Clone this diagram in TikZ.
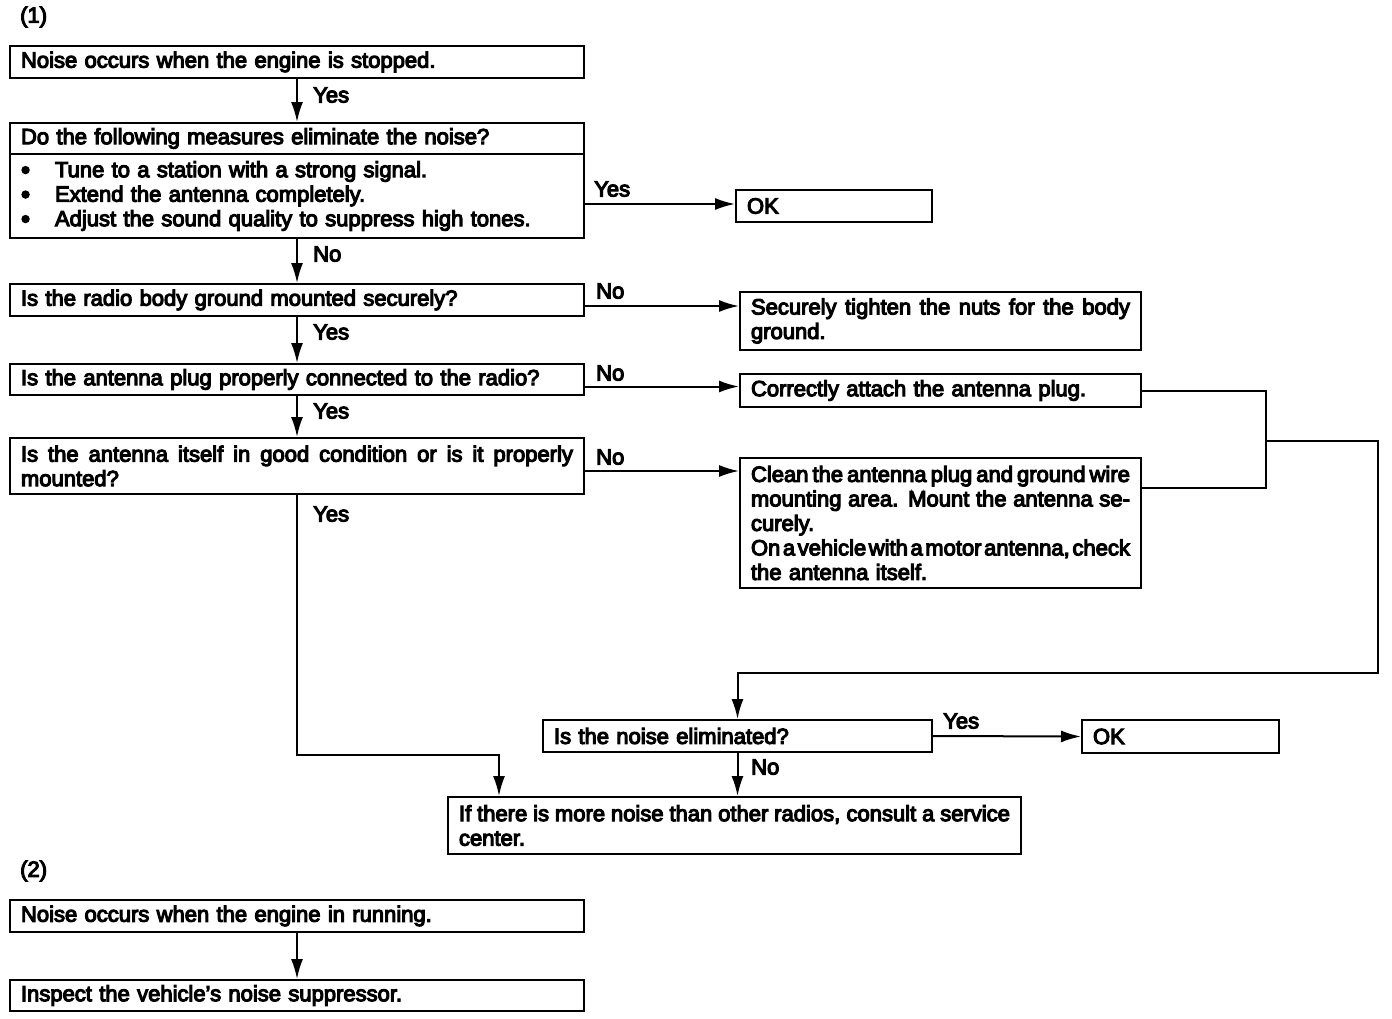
\documentclass[tikz,border=0pt]{standalone}
\usepackage{fontspec}
\setmainfont{Liberation Sans}[FakeBold=5]
\usetikzlibrary{arrows.meta,calc}
\newcommand\myfs{\fontsize{22}{24.5}\selectfont}
\newcommand\jl[3][6pt plus 20pt minus 3pt]{\makebox[#2][s]{\spaceskip=#1\relax\xspaceskip=0pt\relax #3}}
\newcommand\blt{\makebox[34pt][l]{\raisebox{-1.5pt}{\fontsize{26}{24}\selectfont\textbullet}}}
\begin{document}
\begin{tikzpicture}[x=1pt,y=-1pt,
  bx/.style={draw, line width=2pt, rectangle, anchor=north west, inner xsep=11pt, inner ysep=0pt, align=left, font=\myfs},
  lbl/.style={anchor=west, inner sep=0pt, font=\myfs},
  ln/.style={line width=2pt},
  arr/.style={line width=2pt, -{Latex[length=20pt,width=12pt]}}]
\useasboundingbox (0,0) rectangle (1392,1018);
\node[lbl] (t1) at (20,17) {(1)};
\node[bx, text width=552pt, minimum height=32pt] (A) at (9,45) {Noise occurs when the engine is stopped.};
\node[bx, text width=552pt, minimum height=31pt] (B1) at (9,122) {Do the following measures eliminate the noise?};
\node[bx, text width=552pt, minimum height=84pt, inner xsep=11pt] (B2) at (9,153) {\blt Tune to a station with a strong signal.\\
\blt Extend the antenna completely.\\
\blt Adjust the sound quality to suppress high tones.};
\node[bx, text width=174pt, minimum height=32pt, inner xsep=11pt] (OK1) at (735,189) {OK};
\node[bx, text width=552pt, minimum height=32pt] (C) at (9,283) {Is the radio body ground mounted securely?};
\node[bx, text width=379pt, minimum height=58pt] (D) at (739,291) {\jl{379pt}{Securely tighten the nuts for the body}\\ground.};
\node[bx, text width=552pt, minimum height=31pt] (E) at (9,363) {Is the antenna plug properly connected to the radio?};
\node[bx, text width=379pt, minimum height=33pt] (F) at (739,373) {Correctly attach the antenna plug.};
\node[bx, text width=552pt, minimum height=56pt] (G) at (9,437) {\jl{552pt}{Is the antenna itself in good condition or is it properly}\\mounted?};
\node[bx, text width=379pt, minimum height=130pt] (H) at (739,457) {\jl[3pt plus 20pt minus 1pt]{379pt}{Clean the antenna plug and ground wire}\\
\jl{379pt}{mounting area. Mount the antenna se-}\\
curely.\\
\jl[2pt plus 20pt minus 1pt]{379pt}{On a vehicle with a motor antenna, check}\\
the antenna itself.};
\node[bx, text width=367pt, minimum height=32pt, inner xsep=11pt] (I) at (542,719) {Is the noise eliminated?};
\node[bx, text width=175pt, minimum height=33pt] (OK2) at (1081,719) {OK};
\node[bx, text width=551pt, minimum height=57pt] (J) at (447,796) {\jl[4.5pt plus 20pt minus 2pt]{551pt}{If there is more noise than other radios, consult a service}\\center.};
\node[lbl] (t2) at (20,871) {(2)};
\node[bx, text width=552pt, minimum height=32pt] (K) at (9,899) {Noise occurs when the engine in running.};
\node[bx, text width=552pt, minimum height=31pt] (L) at (9,979) {Inspect the vehicle’s noise suppressor.};
% labels
\node[lbl] (y1) at (313,95) {Yes};
\node[lbl] (y2) at (594,189) {Yes};
\node[lbl] (n1) at (313,254) {No};
\node[lbl] (n2) at (596,291) {No};
\node[lbl] (y3) at (313,332) {Yes};
\node[lbl] (n3) at (596,373) {No};
\node[lbl] (y4) at (313,411) {Yes};
\node[lbl] (n4) at (596,457) {No};
\node[lbl] (y5) at (313,514) {Yes};
\node[lbl] (y6) at (943,721) {Yes};
\node[lbl] (n5) at (751,767) {No};
% connectors
\draw[arr] (A) -- (B1);
\draw[arr] ([yshift=-8pt]B2.east) -- ([yshift=-8pt]B2.east -| OK1.west);
\draw[arr] (B2) -- (C);
\draw[arr] ([yshift=-6pt]C.east) -- ([yshift=-6pt]C.east -| D.west);
\draw[arr] (C) -- (E);
\draw[arr] ([yshift=-7pt]E.east) -- ([yshift=-7pt]E.east -| F.west);
\draw[arr] (E) -- (G);
\draw[arr] ([yshift=-5pt]G.east) -- ([yshift=-5pt]G.east -| H.west);
\coordinate (gturn) at (499,755);
\draw[arr] (G.south) |- (gturn) -- (gturn |- J.north);
\coordinate (j1) at (1266,441);
\coordinate (j2) at (1378,673);
\draw[ln] (F.east) -| (j1) |- ([yshift=35pt]H.east);
\draw[arr] (j1) -| (j2) -| (I.north);
\draw[arr] (I.east) -- (OK2.west);
\draw[arr] (I.south) -- (I.south |- J.north);
\draw[arr] (K) -- (L);
\end{tikzpicture}
\end{document}
